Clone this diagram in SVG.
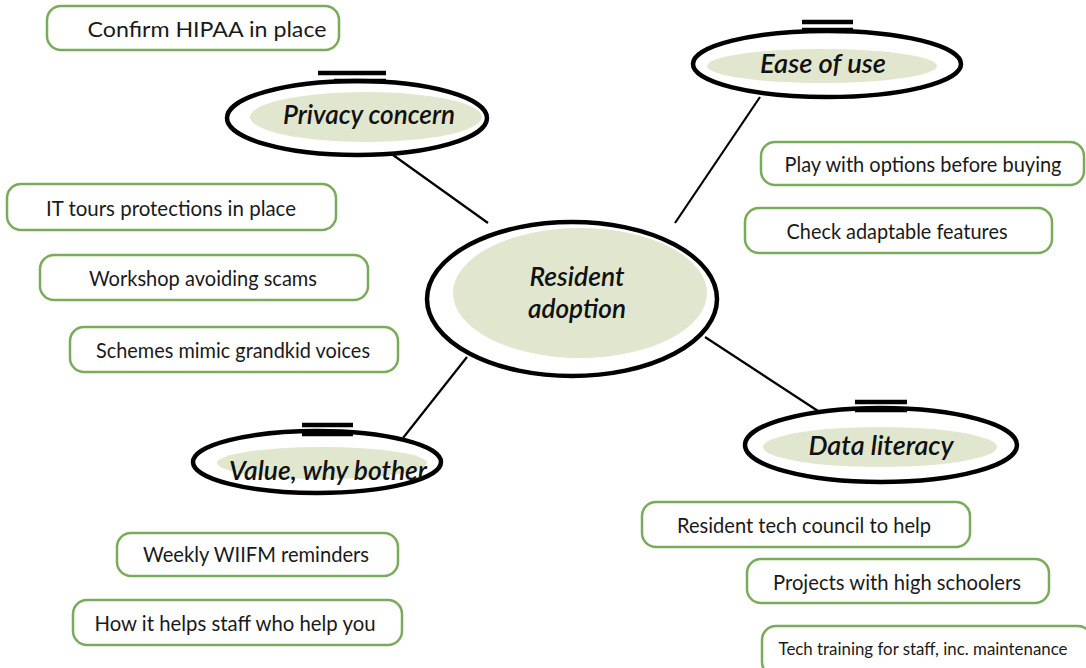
<svg xmlns="http://www.w3.org/2000/svg" width="1086" height="668" viewBox="0 0 1086 668">
  <style>
    .box { fill: #ffffff; stroke: #7aab5a; stroke-width: 2.5; }
    .btxt { font-family: Lato, "Open Sans", sans-serif; font-size: 22px; fill: #1a1a1a; text-anchor: middle; }
    .ring { fill: #ffffff; stroke: #000000; stroke-width: 4.5; }
    .core { fill: #e1e6cf; stroke: none; }
    .bar { stroke: #000000; stroke-width: 4.5; stroke-linecap: butt; fill: none; }
    .etxt { font-family: Lato, "Open Sans", sans-serif; font-size: 26px; font-style: italic; font-weight: 600; fill: #111111; text-anchor: middle; }
    .link { stroke: #000000; stroke-width: 2.2; fill: none; }
  </style>

  <!-- connectors between topic ovals and the central oval -->
  <g id="connectors">
    <line class="link" x1="393" y1="155" x2="488" y2="223"/>
    <line class="link" x1="760" y1="97" x2="675" y2="223"/>
    <line class="link" x1="705" y1="337" x2="818" y2="411"/>
    <line class="link" x1="467" y1="357" x2="403" y2="438"/>
  </g>

  <!-- central oval -->
  <g id="resident-adoption">
    <ellipse class="ring" cx="572" cy="299" rx="145" ry="77"/>
    <ellipse class="core" cx="580" cy="293" rx="127" ry="65"/>
    <text class="etxt" x="577" y="286" textLength="95" lengthAdjust="spacingAndGlyphs">Resident</text>
    <text class="etxt" x="577" y="318" textLength="98" lengthAdjust="spacingAndGlyphs">adoption</text>
  </g>

  <!-- topic ovals -->
  <g id="privacy-concern">
    <ellipse class="ring" cx="357" cy="118" rx="130" ry="37"/>
    <ellipse class="core" cx="366" cy="117" rx="116" ry="25"/>
    <line class="bar" x1="318" y1="73" x2="386" y2="73"/>
    <line class="bar" x1="334" y1="81" x2="386" y2="81"/>
    <text class="etxt" x="369" y="124" textLength="172" lengthAdjust="spacingAndGlyphs">Privacy concern</text>
  </g>

  <g id="ease-of-use">
    <ellipse class="ring" cx="827" cy="64" rx="134" ry="33"/>
    <ellipse class="core" cx="822" cy="66" rx="115" ry="17"/>
    <line class="bar" x1="802" y1="22" x2="853" y2="22"/>
    <line class="bar" x1="802" y1="30" x2="853" y2="30"/>
    <text class="etxt" x="823" y="73" textLength="126" lengthAdjust="spacingAndGlyphs">Ease of use</text>
  </g>

  <g id="value-why-bother">
    <ellipse class="ring" cx="317" cy="462" rx="124" ry="31"/>
    <ellipse class="core" cx="322" cy="463" rx="105" ry="16"/>
    <line class="bar" x1="302" y1="425" x2="353" y2="425"/>
    <line class="bar" x1="302" y1="434" x2="353" y2="434"/>
    <text class="etxt" x="328" y="480" textLength="198" lengthAdjust="spacingAndGlyphs">Value, why bother</text>
  </g>

  <g id="data-literacy">
    <ellipse class="ring" cx="881" cy="445" rx="136" ry="37"/>
    <ellipse class="core" cx="880" cy="447" rx="117" ry="20"/>
    <line class="bar" x1="855" y1="402" x2="907" y2="402"/>
    <line class="bar" x1="855" y1="410" x2="907" y2="410"/>
    <text class="etxt" x="881" y="455" textLength="145" lengthAdjust="spacingAndGlyphs">Data literacy</text>
  </g>

  <!-- idea boxes -->
  <g id="confirm-hipaa">
    <rect class="box" x="47" y="6" width="292" height="44" rx="14"/>
    <text class="btxt" x="207" y="37" textLength="239" lengthAdjust="spacingAndGlyphs">Confirm HIPAA in place</text>
  </g>
  <g id="it-tours">
    <rect class="box" x="7" y="184" width="329" height="46" rx="14"/>
    <text class="btxt" x="171" y="216" textLength="250" lengthAdjust="spacingAndGlyphs">IT tours protections in place</text>
  </g>
  <g id="workshop-scams">
    <rect class="box" x="40" y="255" width="328" height="45" rx="14"/>
    <text class="btxt" x="203" y="286" textLength="228" lengthAdjust="spacingAndGlyphs">Workshop avoiding scams</text>
  </g>
  <g id="schemes-voices">
    <rect class="box" x="70" y="327" width="328" height="45" rx="14"/>
    <text class="btxt" x="233" y="358" textLength="274" lengthAdjust="spacingAndGlyphs">Schemes mimic grandkid voices</text>
  </g>
  <g id="play-options">
    <rect class="box" x="761" y="142" width="323" height="43" rx="14"/>
    <text class="btxt" x="923" y="172" style="font-size:20.5px" textLength="277" lengthAdjust="spacingAndGlyphs">Play with options before buying</text>
  </g>
  <g id="check-features">
    <rect class="box" x="745" y="208" width="307" height="45" rx="14"/>
    <text class="btxt" x="897" y="239" textLength="221" lengthAdjust="spacingAndGlyphs">Check adaptable features</text>
  </g>
  <g id="tech-council">
    <rect class="box" x="642" y="502" width="328" height="45" rx="14"/>
    <text class="btxt" x="804" y="533" textLength="254" lengthAdjust="spacingAndGlyphs">Resident tech council to help</text>
  </g>
  <g id="high-schoolers">
    <rect class="box" x="747" y="559" width="302" height="44" rx="14"/>
    <text class="btxt" x="897" y="590" textLength="248" lengthAdjust="spacingAndGlyphs">Projects with high schoolers</text>
  </g>
  <g id="tech-training">
    <rect class="box" x="762" y="626" width="330" height="50" rx="14"/>
    <text class="btxt" x="923" y="655" style="font-size:18px" textLength="289" lengthAdjust="spacingAndGlyphs">Tech training for staff, inc. maintenance</text>
  </g>
  <g id="wiifm">
    <rect class="box" x="117" y="533" width="281" height="43" rx="14"/>
    <text class="btxt" x="256" y="562" textLength="226" lengthAdjust="spacingAndGlyphs">Weekly WIIFM reminders</text>
  </g>
  <g id="staff-help">
    <rect class="box" x="73" y="600" width="329" height="45" rx="14"/>
    <text class="btxt" x="235" y="631" textLength="281" lengthAdjust="spacingAndGlyphs">How it helps staff who help you</text>
  </g>
</svg>
